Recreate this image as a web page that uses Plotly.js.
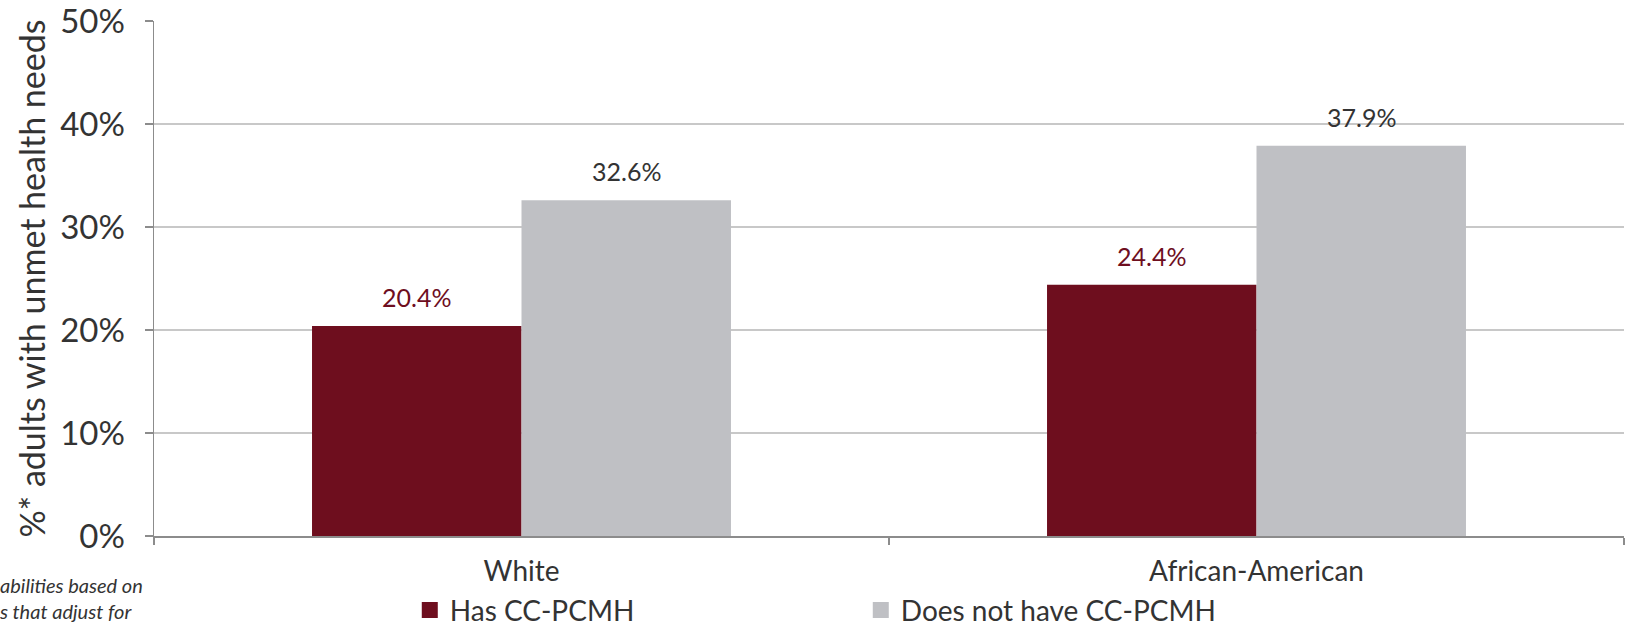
<!DOCTYPE html>
<html>
<head>
<meta charset="utf-8">
<script src="https://cdn.plot.ly/plotly-3.0.1.min.js"></script>
<style>
  html, body { margin: 0; padding: 0; background: #fff; }
  #chart { width: 1627px; height: 626px; }
</style>
</head>
<body>
<div id="chart"></div>
<script>
const categories = ["White", "African-American"];
const seriesNames = ["Has CC-PCMH", "Does not have CC-PCMH"];
const hasCC = [20.4, 24.4];
const noCC = [32.6, 37.9];
const yTickVals = [0, 10, 20, 30, 40, 50];
const yTickText = ["0%", "10%", "20%", "30%", "40%", "50%"];
const yTitle = "%* adults with unmet health needs";
const footnoteLines = ["abilities based on", "s that adjust for"];

const colors = ["#6E0E1E", "#BFC0C4"];
const labelColors = ["#6E0E1E", "#333333"];
const FONT = "Lato, 'Open Sans', sans-serif";
const bargap = 0.43;

const seriesValues = [hasCC, noCC];

const traces = seriesValues.map((vals, s) => ({
  type: "bar",
  name: seriesNames[s],
  x: categories,
  y: vals,
  marker: { color: colors[s], line: { width: 0 } },
  showlegend: false,
  hoverinfo: "x+y+name"
}));

// legend entries with larger square swatches
seriesNames.forEach((name, s) => {
  traces.push({
    type: "scatter",
    mode: "markers",
    name: name,
    x: [null],
    y: [null],
    marker: { symbol: "square", size: 16, color: colors[s], line: { width: 0 } },
    showlegend: true,
    hoverinfo: "skip"
  });
});

// value labels positioned at bar centers via the category axis
const annotations = [];
seriesValues.forEach((vals, s) => {
  const off = (1 - bargap) / 4 * (s === 0 ? -1 : 1);
  vals.forEach((v, i) => {
    annotations.push({
      xref: "x", yref: "y",
      x: i + off, y: v,
      text: v.toFixed(1) + "%",
      showarrow: false,
      yanchor: "bottom",
      yshift: 12,
      font: { family: FONT, size: 25, color: labelColors[s] }
    });
  });
});

annotations.push({
  xref: "paper", yref: "paper",
  x: 0, y: 0,
  xanchor: "left", yanchor: "top",
  xshift: -157, yshift: -35,
  align: "left",
  showarrow: false,
  text: "<i>" + footnoteLines.join("<br>") + "</i>",
  font: { family: FONT, size: 20, color: "#333333" }
});

const layout = {
  width: 1627,
  height: 626,
  margin: { l: 154, r: 3, t: 21, b: 90 },
  paper_bgcolor: "#ffffff",
  plot_bgcolor: "#ffffff",
  barmode: "group",
  bargap: bargap,
  bargroupgap: 0,
  showlegend: true,
  legend: {
    orientation: "h",
    xref: "paper", yref: "container",
    x: 0.174, xanchor: "left",
    y: 0.025, yanchor: "middle",
    font: { family: FONT, size: 28, color: "#333333" },
    entrywidth: 406,
    entrywidthmode: "pixels",
    traceorder: "normal",
    itemclick: false
  },
  xaxis: {
    type: "category",
    showgrid: false,
    showline: true,
    linecolor: "#8C8C8C",
    linewidth: 1.5,
    ticks: "outside",
    tickson: "boundaries",
    ticklen: 7,
    tickcolor: "#8C8C8C",
    tickwidth: 1.5,
    ticklabelstandoff: 10,
    tickfont: { family: FONT, size: 28, color: "#333333" },
    automargin: false,
    fixedrange: true
  },
  yaxis: {
    range: [0, 50],
    tickvals: yTickVals,
    ticktext: yTickText,
    showgrid: true,
    gridcolor: "#C8C8C8",
    gridwidth: 1.5,
    zeroline: false,
    showline: true,
    linecolor: "#8C8C8C",
    linewidth: 1.5,
    ticks: "outside",
    ticklen: 8,
    tickcolor: "#8C8C8C",
    tickwidth: 1.5,
    ticklabelstandoff: 13,
    ticklabeloverflow: "allow",
    tickfont: { family: FONT, size: 33, color: "#333333" },
    title: {
      text: yTitle,
      font: { family: FONT, size: 34, color: "#333333" },
      standoff: 4
    },
    automargin: false,
    fixedrange: true
  },
  annotations: annotations
};

Plotly.newPlot("chart", traces, layout, { displayModeBar: false, staticPlot: true });
</script>
</body>
</html>
